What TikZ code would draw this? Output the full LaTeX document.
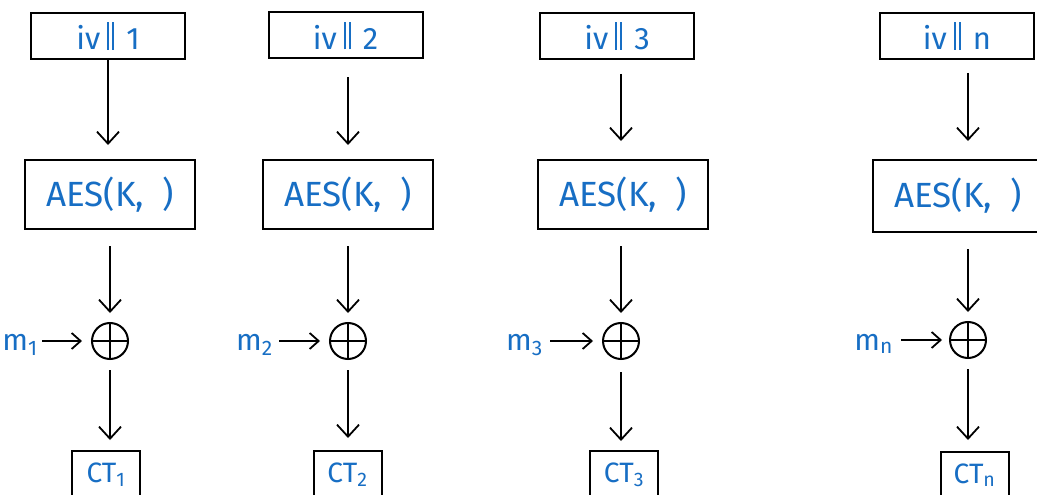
\documentclass[tikz,border=0pt]{standalone}
\usepackage{fontspec}
\setmainfont{Fira Sans}
\usetikzlibrary{arrows.meta}
\definecolor{ink}{RGB}{23,110,196}
\newcommand{\dbar}{{\color{ink}\rule{2pt}{28pt}\hspace{3pt}\rule{2pt}{28pt}}}
\newcommand{\ivlab}[1]{iv\hspace{7pt}\dbar\hspace{12pt}#1}
\tikzset{
  box/.style={draw=black, line width=2pt, inner sep=0pt, text=ink},
  ivbox/.style={box, minimum width=154pt, minimum height=46pt, font=\fontsize{31}{36}\selectfont},
  aesbox/.style={box, minimum width=170pt, minimum height=69pt, font=\fontsize{35}{40}\selectfont},
  ctbox/.style={box, minimum width=68pt, minimum height=52pt, anchor=north, text height=20pt, text depth=10pt, font=\fontsize{28}{32}\selectfont},
  xor/.style={circle, draw=black, line width=2pt, minimum size=36pt, inner sep=0pt},
  msg/.style={text=ink, inner sep=0pt, anchor=base east, font=\fontsize{30}{34}\selectfont},
  arr/.style={draw=black, line width=1.8pt, -{Straight Barb[length=12pt,width=22pt]}},
  harr/.style={draw=black, line width=1.8pt, -{Straight Barb[length=9pt,width=16pt]}},
  cross/.style={draw=black, line width=2pt},
}
\begin{document}
\begin{tikzpicture}[x=1pt,y=-1pt]
\useasboundingbox (0,0) rectangle (1037,495);
\fill[white] (0,0) rectangle (1037,495);
\clip (0,0) rectangle (1037,495);

% column 1
\node[ivbox] (iv1) at (108,36) {\ivlab{1}};
\node[aesbox] (aes1) at (110,194.5) {AES(K,\ \ )};
\node[xor] (x1) at (110,341) {};
\draw[cross] (x1.north) -- (x1.south) (x1.west) -- (x1.east);
\node[msg] (m1) at (38,350) {m\textsubscript{1}};
\node[ctbox] (ct1) at (106,450) {CT\textsubscript{1}};
\draw[arr, shorten >=14pt] (iv1.south) -- (iv1.south |- aes1.north);
\draw[arr, shorten <=16pt, shorten >=9pt] (aes1.south -| x1) -- (x1.north);
\draw[arr, shorten <=10pt, shorten >=10pt] (x1.south) -- (x1.south |- ct1.north);
\draw[harr, shorten <=4pt, shorten >=9pt] (m1.east |- x1) -- (x1.west);

% column 2
\node[ivbox] (iv2) at (345.5,35.5) {\ivlab{2}};
\node[aesbox] (aes2) at (348,194.5) {AES(K,\ \ )};
\node[xor] (x2) at (348,341) {};
\draw[cross] (x2.north) -- (x2.south) (x2.west) -- (x2.east);
\node[msg] (m2) at (273,350) {m\textsubscript{2}};
\node[ctbox] (ct2) at (347.5,450) {CT\textsubscript{2}};
\draw[arr, shorten <=18pt, shorten >=14pt] (iv2.south -| x2) -- (aes2.north -| x2);
\draw[arr, shorten <=16pt, shorten >=9pt] (aes2.south -| x2) -- (x2.north);
\draw[arr, shorten <=10pt, shorten >=12pt] (x2.south) -- (x2.south |- ct2.north);
\draw[harr, shorten <=6pt, shorten >=9pt] (m2.east |- x2) -- (x2.west);

% column 3
\node[ivbox] (iv3) at (617,36) {\ivlab{3}};
\node[aesbox] (aes3) at (623,194.5) {AES(K,\ \ )};
\node[xor] (x3) at (621,341) {};
\draw[cross] (x3.north) -- (x3.south) (x3.west) -- (x3.east);
\node[msg] (m3) at (543,350) {m\textsubscript{3}};
\node[ctbox] (ct3) at (624,450) {CT\textsubscript{3}};
\draw[arr, shorten <=14pt, shorten >=18pt] (iv3.south -| x3) -- (aes3.north -| x3);
\draw[arr, shorten <=16pt, shorten >=9pt] (aes3.south -| x3) -- (x3.north);
\draw[arr, shorten <=12pt, shorten >=9pt] (x3.south) -- (x3.south |- ct3.north);
\draw[harr, shorten <=7pt, shorten >=9pt] (m3.east |- x3) -- (x3.west);

% column n
\node[ivbox] (ivn) at (957,36) {\ivlab{n}};
\node[aesbox, minimum height=72pt] (aesn) at (958,196) {AES(K,\ \ )};
\node[xor] (xn) at (968,340) {};
\draw[cross] (xn.north) -- (xn.south) (xn.west) -- (xn.east);
\node[msg] (mn) at (893,350) {m\textsubscript{n}};
\node[ctbox] (ctn) at (974.5,451) {CT\textsubscript{n}};
\draw[arr, shorten <=13pt, shorten >=18pt] (ivn.south -| xn) -- (aesn.north -| xn);
\draw[arr, shorten <=16pt, shorten >=9pt] (aesn.south -| xn) -- (xn.north);
\draw[arr, shorten <=10pt, shorten >=11pt] (xn.south) -- (xn.south |- ctn.north);
\draw[harr, shorten <=8pt, shorten >=7pt] (mn.east |- xn) -- (xn.west);
\end{tikzpicture}
\end{document}
